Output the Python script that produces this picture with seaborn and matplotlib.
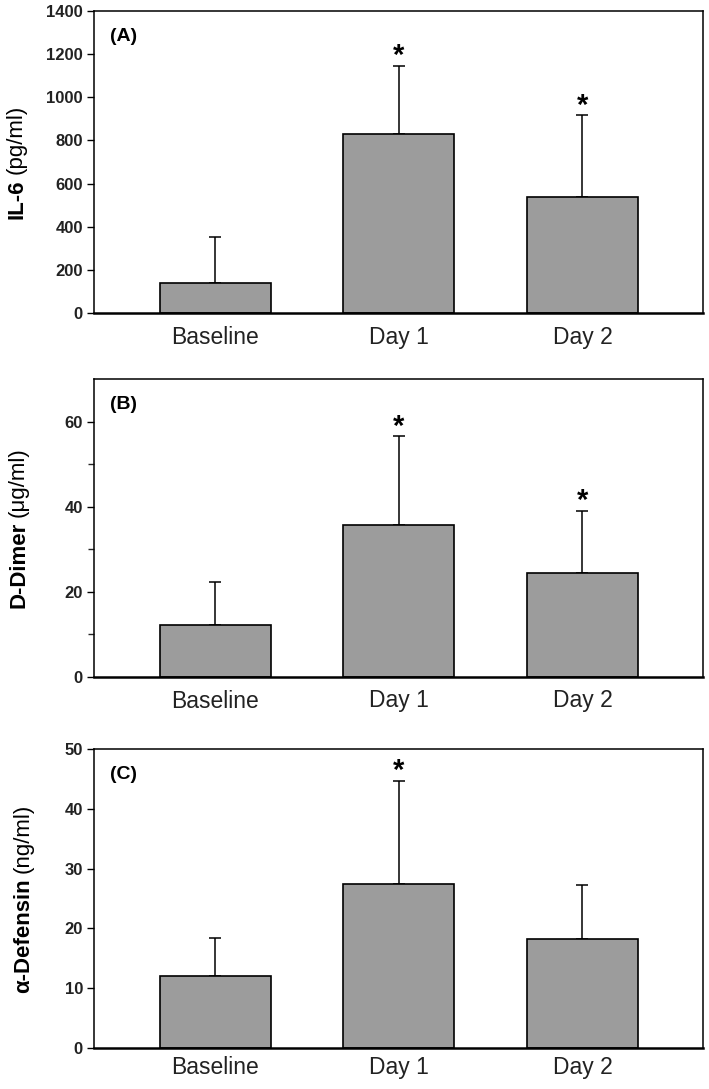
import numpy as np
import pandas as pd
import matplotlib
matplotlib.use("Agg")
import matplotlib.pyplot as plt
import seaborn as sns

# ---- data ----
categories = ["Baseline", "Day 1", "Day 2"]

il6_mean = [138, 830, 539]
il6_upper = [354, 1147, 916]
il6_sig = [False, True, True]

ddimer_mean = [12.3, 35.8, 24.5]
ddimer_upper = [22.4, 56.6, 39.1]
ddimer_sig = [False, True, True]

defensin_mean = [12.1, 27.5, 18.2]
defensin_upper = [18.4, 44.7, 27.3]
defensin_sig = [False, True, False]

panel_labels = ["(A)", "(B)", "(C)"]
ylabel_bold = ["IL-6", "D-Dimer", "\u03b1-Defensin"]
ylabel_norm = ["(pg/ml)", "(\u03bcg/ml)", "(ng/ml)"]
ylims = [1400, 70, 50]
yticks_major = [[0, 200, 400, 600, 800, 1000, 1200, 1400], [0, 20, 40, 60], [0, 10, 20, 30, 40, 50]]
yticks_minor = [[], [10, 30, 50], []]

# ---- style ----
sns.set_theme(style="ticks")
plt.rcParams['font.family'] = ['Liberation Sans', 'DejaVu Sans']

W, H = 709, 1089
fig = plt.figure(figsize=(W / 100, H / 100), dpi=100)

# axes boxes in pixels (left, top, right, bottom)
boxes = [(94, 11, 703, 313), (94, 379, 703, 677), (94, 749, 703, 1048)]
label_x = [22, 24, 29]
xpads = [9, 9, 6]

means = [il6_mean, ddimer_mean, defensin_mean]
uppers = [il6_upper, ddimer_upper, defensin_upper]
sigs = [il6_sig, ddimer_sig, defensin_sig]

axes = []
for i in range(3):
    l, t, r, b = boxes[i]
    ax = fig.add_axes([l / W, 1 - b / H, (r - l) / W, (b - t) / H])
    axes.append(ax)
    df = pd.DataFrame({"cat": categories, "val": means[i]})
    sns.barplot(data=df, x="cat", y="val", ax=ax, color="#9c9c9c", saturation=1,
                width=0.605, edgecolor="black", linewidth=1.2, errorbar=None)
    m = np.array(means[i])
    up = np.array(uppers[i])
    ax.errorbar(np.arange(3), m, yerr=[np.zeros(3), up - m], fmt="none",
                ecolor="black", elinewidth=1.1, capsize=4.2, capthick=1.1, zorder=1)
    for p in ax.patches:
        p.set_zorder(2)
    for j in range(3):
        if sigs[i][j]:
            ax.annotate("*", xy=(j, up[j]), xytext=(0, 1), textcoords="offset points",
                        ha="center", va="baseline", fontsize=21, fontweight="bold", color="black")
    ax.set_xlim(-0.662, 2.657)
    ax.set_ylim(0, ylims[i])
    ax.set_yticks(yticks_major[i])
    ax.set_yticks(yticks_minor[i], minor=True)
    ax.set_xlabel("")
    ax.set_ylabel("")
    ax.tick_params(axis="x", length=0, labelsize=16.5, pad=xpads[i], colors="black")
    ax.tick_params(axis="y", which="major", length=5, width=1.0, labelsize=12, pad=3, colors="black")
    ax.tick_params(axis="y", which="minor", length=4, width=1.0)
    for lab in ax.get_yticklabels():
        lab.set_fontweight("bold")
        lab.set_color("#222222")
    for lab in ax.get_xticklabels():
        lab.set_color("#222222")
    for s in ["left", "right", "top"]:
        ax.spines[s].set_visible(True)
        ax.spines[s].set_linewidth(1.1)
        ax.spines[s].set_color("black")
    ax.spines["bottom"].set_linewidth(1.8)
    ax.spines["bottom"].set_color("black")
    ax.text(0.026, 0.915, panel_labels[i], transform=ax.transAxes, fontsize=14,
            fontweight="bold", ha="left", va="center", color="black")

# mixed-weight y labels
fig.canvas.draw()
renderer = fig.canvas.get_renderer()
space_px = 5
for i in range(3):
    l, t, r, b = boxes[i]
    cy = H - (t + b) / 2.0
    x = label_x[i]
    t1 = fig.text(x / W, cy / H, ylabel_bold[i], rotation=90, rotation_mode="anchor",
                  ha="left", va="baseline", fontsize=16, fontweight="bold", color="black")
    t2 = fig.text(x / W, cy / H, ylabel_norm[i], rotation=90, rotation_mode="anchor",
                  ha="left", va="baseline", fontsize=16, color="black")
    e1 = t1.get_window_extent(renderer)
    e2 = t2.get_window_extent(renderer)
    total = e1.height + space_px + e2.height
    y0 = cy - total / 2.0
    t1.set_position((x / W, y0 / H))
    t2.set_position((x / W, (y0 + e1.height + space_px) / H))

fig.savefig("out.png", dpi=100, facecolor="white")
